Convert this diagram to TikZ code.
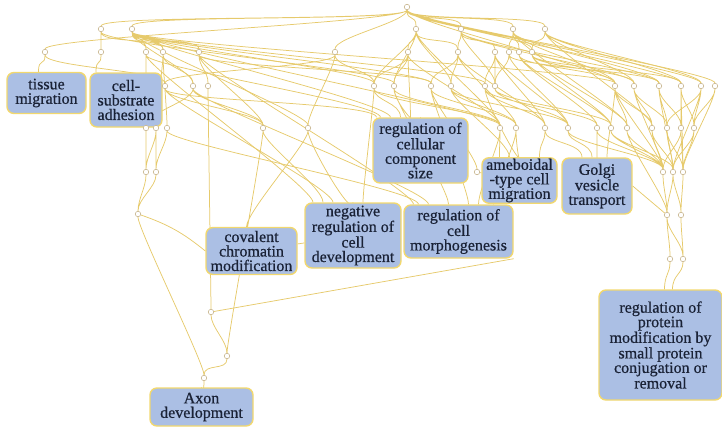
\documentclass[tikz,border=0pt]{standalone}
\usepackage{fontspec}
\setmainfont{Liberation Serif}
\newfontfamily\termfont{Liberation Serif}[FakeBold=0.6]
\usetikzlibrary{backgrounds}
\definecolor{termc}{HTML}{ABBFE4}
\definecolor{rimc}{HTML}{F2D86E}
\definecolor{linkc}{HTML}{E6CA6C}
\definecolor{knotc}{HTML}{C8B690}
\definecolor{inkc}{HTML}{1A2236}
\tikzset{
  term/.style={draw=rimc, fill=termc, line width=1.4pt, rounded corners=7pt, align=center, inner sep=1pt, text=inkc, font=\termfont\fontsize{16}{14.5}\selectfont},
  knot/.style={circle, draw=knotc, fill=white, line width=.6pt, minimum size=5.5pt, inner sep=0pt},
  link/.style={draw=linkc, line width=.75pt, to path={.. controls +(0,15) and +(0,-15) .. (\tikztotarget)}},
}

\begin{document}
\begin{tikzpicture}[x=1pt, y=-1pt]
\useasboundingbox (0,0) rectangle (722,429);
% go terms
\node[term, minimum width=79pt, minimum height=41pt] (tm) at (46.5,93) {tissue\\migration};
\node[term, minimum width=72pt, minimum height=54pt] (csa) at (126,100) {cell-\\substrate\\adhesion};
\node[term, minimum width=95pt, minimum height=65pt] (rccs) at (420.5,150.5) {regulation of\\cellular\\component\\size};
\node[term, minimum width=75pt, minimum height=43pt] (amb) at (519.5,180.5) {ameboidal\\-type cell\\migration};
\node[term, minimum width=70pt, minimum height=56pt] (golgi) at (597,186) {Golgi\\vesicle\\transport};
\node[term, minimum width=96pt, minimum height=65pt] (nrcd) at (353,235.5) {negative\\regulation of\\cell\\development};
\node[term, minimum width=109pt, minimum height=53pt] (rcm) at (458.5,231.5) {regulation of\\cell\\morphogenesis};
\node[term, minimum width=91pt, minimum height=47pt] (ccm) at (251.5,251) {covalent\\chromatin\\modification};
\node[term, minimum width=103pt, minimum height=38pt] (axon) at (201.5,407) {Axon\\development};
\node[term, minimum width=123pt, minimum height=110pt] (rpm) at (660.5,345) {regulation of\\protein\\modification by\\small protein\\conjugation or\\removal};
% hidden parent terms
\path (407,7) node[knot] (r) {};
\path (101,29) node[knot] (a1) {} (132,29) node[knot] (a2) {} (416,29) node[knot] (a3) {} (461,29) node[knot] (a4) {} (513,29) node[knot] (a5) {} (545,29) node[knot] (a6) {};
\path (45,52) node[knot] (b1) {} (101,52) node[knot] (b2) {} (146,52) node[knot] (b3) {} (163,52) node[knot] (b4) {} (199,52) node[knot] (b5) {} (335,52) node[knot] (b6) {}
  (408,52) node[knot] (b7) {} (458,52) node[knot] (b8) {} (495,52) node[knot] (b9) {} (509,52) node[knot] (b10) {} (519,52) node[knot] (b11) {} (532,52) node[knot] (b12) {};
\path (165,86) node[knot] (c1) {} (193,86) node[knot] (c2) {} (208,86) node[knot] (c3) {} (374,86) node[knot] (c4) {} (394,86) node[knot] (c5) {} (431,86) node[knot] (c6) {}
  (451,86) node[knot] (c7) {} (485,86) node[knot] (c8) {} (495,86) node[knot] (c9) {} (615,86) node[knot] (c10) {} (634,86) node[knot] (c11) {} (659,86) node[knot] (c12) {}
  (681,86) node[knot] (c13) {} (701,86) node[knot] (c14) {} (715,86) node[knot] (c15) {};
\path (146,128) node[knot] (d1) {} (156,128) node[knot] (d2) {} (167,128) node[knot] (d3) {} (263,128) node[knot] (d4) {} (308,128) node[knot] (d5) {} (500,128) node[knot] (d6) {}
  (516,128) node[knot] (d7) {} (545,128) node[knot] (d8) {} (568,128) node[knot] (d9) {} (597,128) node[knot] (d10) {} (611,128) node[knot] (d11) {} (627,128) node[knot] (d12) {}
  (652,128) node[knot] (d13) {} (667,128) node[knot] (d14) {} (681,128) node[knot] (d15) {} (694,128) node[knot] (d16) {};
\path (146,172) node[knot] (e1) {} (156,172) node[knot] (e2) {} (477,172) node[knot] (e3) {} (663,172) node[knot] (e4) {} (673,172) node[knot] (e5) {} (683,172) node[knot] (e6) {};
\path (138,214) node[knot] (f1) {} (667,215) node[knot] (f2) {} (681,215) node[knot] (f3) {} (670,259) node[knot] (g1) {} (683,259) node[knot] (g2) {};
\path (211,312) node[knot] (h1) {} (227,356) node[knot] (h2) {} (204,378) node[knot] (h3) {};
% is_a links
\begin{pgfonlayer}{background}
\draw[link] (r) to (a1) (r) to (a2) (r) to (b1) (r) to (b6) (r) to (a3) (r) to (a4) (r) to (a5) (r) to (a6) (r) to (b12) (r) to (c10) (r) to (c13) (r) to (c14) (r) to (c15);
\draw[link] (a1) to (b2) (a1) to (c5) (a1) to (b4);
\draw[link] (a2) to (b3) (a2) to (b4) (a2) to (b5) (a2) to (c2) (a2) to (c4) (a2) to (c6) (a2) to (c8) (a2) to (d5) (a2) to (d6) (a2) to (c10) (a2) to ([xshift=-30pt]rccs.north);
\draw[link] (a3) to (b7) (a3) to (c4) (a3) to (c5) (a3) to (c7) (a3) to (b8) (a3) to (d6);
\draw[link] (a4) to (b8) (a4) to (b9) (a4) to (c9) (a4) to (c11) (a4) to (c12);
\draw[link] (a5) to (b10) (a5) to (b11) (a5) to (c10) (a5) to (c12) (a5) to (d12);
\draw[link] (a6) to (b12) (a6) to (c11) (a6) to (c13) (a6) to (c14) (a6) to (d13);
\draw[link] (b1) to ([xshift=-8pt]tm.north) (b1) to (c1) (b2) to ([xshift=-30pt]csa.north);
\draw[link] (b3) to (d1) (b3) to ([xshift=-40pt]nrcd.north) (b3) to ([xshift=-40pt]rccs.north);
\draw[link] (b4) to (d2) (b4) to (d3) (b4) to (c2) (b5) to (c3) (b5) to (d4) (b5) to (c6) (b5) to ([xshift=-45pt]rcm.north);
\draw[link] (b6) to (c4) (b6) to (d5) (b6) to (c1) (b7) to (c4) (b7) to (c5) (b7) to (d6) (b7) to ([xshift=-10pt]rccs.north);
\draw[link] (b8) to (c6) (b8) to (c7) (b8) to (d7) (b8) to (d8) (b9) to (c8) (b9) to (c9) (b9) to (d8) (b9) to (d9);
\draw[link] (b10) to (c9) (b10) to (d9) (b10) to (c12) (b11) to (c10) (b11) to (d10) (b11) to (d11) (b12) to (c11) (b12) to (c13) (b12) to (d11) (b12) to (d12);
\draw[link] (c1) to ([xshift=-44pt]rccs.north) (c1) to ([xshift=-20pt]nrcd.north) (c1) to (d4);
\draw[link] (c2) to (d1) (c2) to (d4) (c2) to ([xshift=-30pt]rcm.north) (c3) to (h1);
\draw[link] (c4) to ([xshift=-20pt]rccs.north) (c4) to ([xshift=10pt]nrcd.north) (c4) to (d6);
\draw[link] (c5) to (d6) (c5) to (rccs) (c5) to ([xshift=-10pt]rcm.north) (c6) to (d7) (c6) to ([xshift=10pt]rcm.north) (c6) to (e3);
\draw[link] (c7) to (d7) (c7) to ([xshift=-10pt]amb.north) (c7) to (d9) (c8) to (d8) (c8) to (d10) (c8) to (amb) (c9) to (d9) (c9) to (d11);
\draw[link] (c10) to (d12) (c10) to (d13) (c10) to (e4) (c10) to ([xshift=10pt]golgi.north) (c11) to (d13) (c11) to (d14) (c11) to (e4);
\draw[link] (c12) to (d14) (c12) to (d15) (c12) to (e5) (c13) to (d15) (c13) to (d16) (c13) to (e6);
\draw[link] (c14) to (d16) (c14) to (e5) (c14) to (d14) (c15) to (d16) (c15) to (e6);
\draw[link] (d1) to (e1) (d2) to (e2) (d2) to (e1) (d3) to (e2) (d3) to ([xshift=-40pt]rcm.north) (d4) to (h2) (d4) to ([xshift=-30pt]nrcd.north) (d5) to (nrcd) (d5) to ([xshift=-5pt]ccm.north);
\draw[link] (d6) to ([xshift=-20pt]amb.north) (d6) to ([xshift=20pt]rcm.north) (d7) to (amb) (d7) to ([xshift=35pt]rcm.north) (d8) to ([xshift=-15pt]golgi.north) (d8) to ([xshift=20pt]amb.north);
\draw[link] (d9) to ([xshift=-5pt]golgi.north) (d9) to (e4) (d10) to (golgi) (d10) to (e4) (d11) to (e4) (d11) to (e5) (d12) to (f2) (d12) to (e4);
\draw[link] (d13) to (e4) (d13) to (e5) (d14) to (e5) (d14) to (e6) (d15) to (e6) (d15) to (e4) (d16) to (e6) (d16) to (e5);
\draw[link] (e1) to (f1) (e2) to (f1) (e4) to (f2) (e5) to (f2) (e5) to (f3) (e6) to (f3);
\draw[link] (f1) to (h3) (f2) to (g1) (f2) to (g2) (f3) to (g2) (g1) to ([xshift=4pt]rpm.north) (g2) to ([xshift=12pt]rpm.north);
\draw[link] (h1) to (h2) (h2) to (h3) (h3) to (axon);
\draw[linkc, line width=.75pt] (e3) -- (amb) (f1) to[bend left=10] (ccm.west) (golgi.east) -- (f2) (h1) -- (rcm.south east) (ccm) -- (nrcd);
\end{pgfonlayer}
\end{tikzpicture}
\end{document}
